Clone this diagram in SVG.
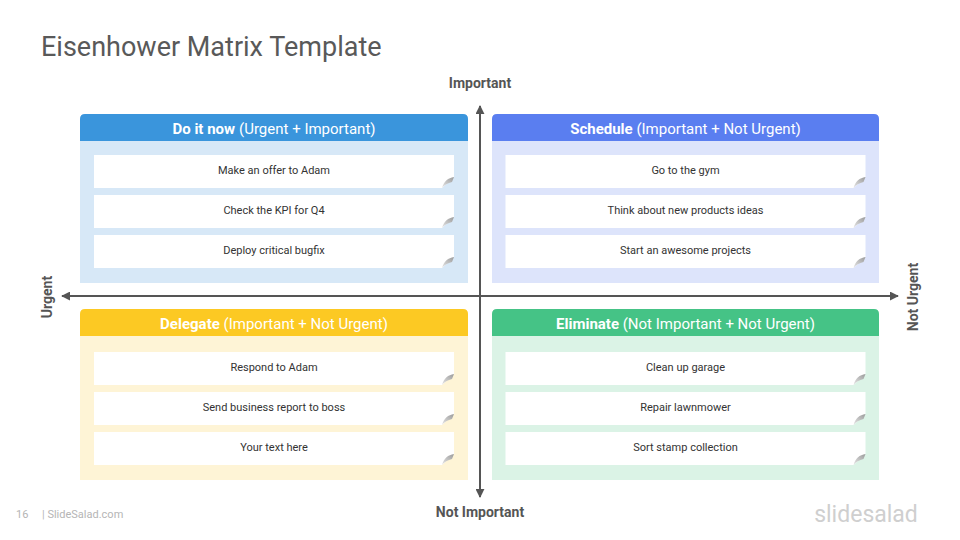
<svg xmlns="http://www.w3.org/2000/svg" width="960" height="540" viewBox="0 0 960 540">
<defs>
<style>
.title{font-family:Roboto,"Liberation Sans",sans-serif;font-size:27px;fill:#595959}
.hdr{font-family:Roboto,"Liberation Sans",sans-serif;font-size:15px;fill:#fff;text-anchor:middle}
.hdr .b{font-weight:bold}
.item{fill:#fff}
.itxt{font-family:Roboto,"Liberation Sans",sans-serif;font-size:11px;fill:#333;text-anchor:middle}
.axis{stroke:#555;stroke-width:2;fill:none}
.alab{font-family:Roboto,"Liberation Sans",sans-serif;font-size:14px;font-weight:bold;fill:#555;text-anchor:middle}
.curl{fill:url(#curlg)}
.foot{font-family:Roboto,"Liberation Sans",sans-serif;font-size:11px;fill:#b5b5b5}
.brand{font-family:Roboto,"Liberation Sans",sans-serif;font-size:23px;fill:#cfcfcf;text-anchor:middle}
</style>
<linearGradient id="curlg" x1="0" y1="1" x2="1" y2="0">
<stop offset="0" stop-color="#e6e6e6"/>
<stop offset="1" stop-color="#9a9a9a"/>
</linearGradient>
<marker id="arr" viewBox="0 0 10 10" refX="9" refY="5" markerWidth="4.5" markerHeight="4.5" orient="auto">
<path d="M0,0 L10,5 L0,10 Z" fill="#555"/>
</marker>
<g id="note">
<path class="item" d="M0,0 H360 V22 L348,33 H0 Z"/>
<path class="curl" d="M360,22 C354,23 350,26 348,33 C350,30 354,28 358,27 Z"/>
</g>
</defs>
<rect width="960" height="540" fill="#fff"/>
<text class="title" x="41" y="56">Eisenhower Matrix Template</text>

<g id="do-it-now">
<rect x="80" y="141" width="388" height="142" fill="#d7e8f7"/>
<path d="M80,141 V119 Q80,114 85,114 H463 Q468,114 468,119 V141 Z" fill="#3a95dc"/>
<text class="hdr" x="274" y="134"><tspan class="b">Do it now</tspan><tspan dx="4">(Urgent + Important)</tspan></text>
<use href="#note" x="94" y="155"/>
<use href="#note" x="94" y="195"/>
<use href="#note" x="94" y="235"/>
<text class="itxt" x="274" y="174">Make an offer to Adam</text>
<text class="itxt" x="274" y="214">Check the KPI for Q4</text>
<text class="itxt" x="274" y="254">Deploy critical bugfix</text>
</g>

<g id="schedule">
<rect x="492" y="141" width="387" height="142" fill="#dde4fb"/>
<path d="M492,141 V119 Q492,114 497,114 H874 Q879,114 879,119 V141 Z" fill="#5a7ef0"/>
<text class="hdr" x="685.5" y="134"><tspan class="b">Schedule</tspan> (Important + Not Urgent)</text>
<use href="#note" x="505.5" y="155"/>
<use href="#note" x="505.5" y="195"/>
<use href="#note" x="505.5" y="235"/>
<text class="itxt" x="685.5" y="174">Go to the gym</text>
<text class="itxt" x="685.5" y="214">Think about new products ideas</text>
<text class="itxt" x="685.5" y="254">Start an awesome projects</text>
</g>

<g id="delegate">
<rect x="80" y="336" width="388" height="144" fill="#fef4d6"/>
<path d="M80,336 V314 Q80,309 85,309 H463 Q468,309 468,314 V336 Z" fill="#fcc923"/>
<text class="hdr" x="274" y="329"><tspan class="b">Delegate</tspan> (Important + Not Urgent)</text>
<use href="#note" x="94" y="352"/>
<use href="#note" x="94" y="392"/>
<use href="#note" x="94" y="432"/>
<text class="itxt" x="274" y="371">Respond to Adam</text>
<text class="itxt" x="274" y="411">Send business report to boss</text>
<text class="itxt" x="274" y="451">Your text here</text>
</g>

<g id="eliminate">
<rect x="492" y="336" width="387" height="144" fill="#dbf3e6"/>
<path d="M492,336 V314 Q492,309 497,309 H874 Q879,309 879,314 V336 Z" fill="#45c386"/>
<text class="hdr" x="685.5" y="329"><tspan class="b">Eliminate</tspan> (Not Important + Not Urgent)</text>
<use href="#note" x="505.5" y="352"/>
<use href="#note" x="505.5" y="392"/>
<use href="#note" x="505.5" y="432"/>
<text class="itxt" x="685.5" y="371">Clean up garage</text>
<text class="itxt" x="685.5" y="411">Repair lawnmower</text>
<text class="itxt" x="685.5" y="451">Sort stamp collection</text>
</g>

<g id="connectors">
<line class="axis" x1="480" y1="296" x2="480" y2="106" marker-end="url(#arr)"/>
<line class="axis" x1="480" y1="296" x2="480" y2="497" marker-end="url(#arr)"/>
<line class="axis" x1="480" y1="296" x2="62" y2="296" marker-end="url(#arr)"/>
<line class="axis" x1="480" y1="296" x2="898" y2="296" marker-end="url(#arr)"/>
</g>

<g id="axis-labels">
<text class="alab" x="480" y="88">Important</text>
<text class="alab" x="480" y="517">Not Important</text>
<text class="alab" x="52" y="297" transform="rotate(-90 52 297)">Urgent</text>
<text class="alab" x="918" y="297" transform="rotate(-90 918 297)">Not Urgent</text>
</g>

<text class="foot" x="16" y="518">16</text>
<text class="foot" x="42" y="518">| SlideSalad.com</text>
<text class="brand" x="866" y="522">slidesalad</text>
</svg>
